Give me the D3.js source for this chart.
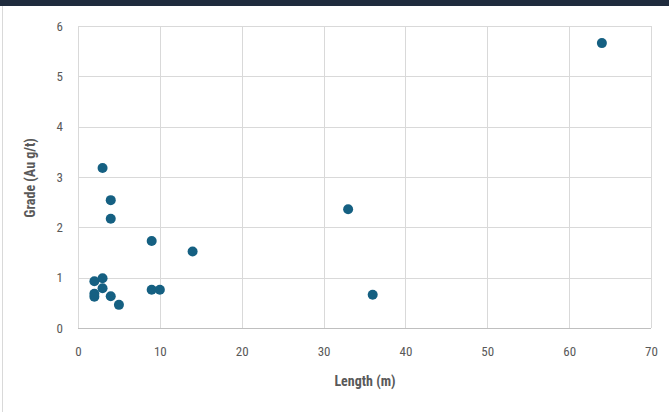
<!DOCTYPE html>
<html><head><meta charset="utf-8">
<script src="https://cdn.jsdelivr.net/npm/d3@7"></script>
<style>
html,body{margin:0;padding:0;background:#fff;}
svg{display:block;}
</style></head>
<body>
<svg id="chart" width="669" height="412"></svg>
<script>
const lengthM = [64, 33, 36, 14, 9, 9, 10, 3, 4, 4, 2, 3, 3, 2, 2, 4, 5];
const gradeAu = [5.66, 2.36, 0.66, 1.52, 1.73, 0.76, 0.76, 3.18, 2.54, 2.17, 0.93, 0.99, 0.79, 0.62, 0.68, 0.63, 0.46];
const xTicks = [0, 10, 20, 30, 40, 50, 60, 70];
const yTicks = [0, 1, 2, 3, 4, 5, 6];
const xTitle = "Length (m)";
const yTitle = "Grade (Au g/t)";

const svg = d3.select("#chart");
const font = "'Roboto Condensed','Liberation Sans Narrow','Liberation Sans',sans-serif";

// frame decorations
svg.append("rect").attr("x",0).attr("y",0).attr("width",669).attr("height",6).attr("fill","#1f2b3d");
svg.append("line").attr("x1",2.5).attr("x2",2.5).attr("y1",6).attr("y2",412).attr("stroke","#d9d9d9");

const x = d3.scaleLinear().domain([0,70]).range([78,651]);
const y = d3.scaleLinear().domain([0,6]).range([328,26]);

const g = svg.append("g");
g.selectAll(".hg").data(yTicks).enter().append("line")
  .attr("x1",x(0)).attr("x2",x(70))
  .attr("y1",d=>Math.round(y(d))+0.5).attr("y2",d=>Math.round(y(d))+0.5)
  .attr("stroke",d=>d===0?"#bfbfbf":"#d9d9d9").attr("stroke-width",1);
g.selectAll(".vg").data(xTicks).enter().append("line")
  .attr("x1",d=>Math.round(x(d))+0.5).attr("x2",d=>Math.round(x(d))+0.5)
  .attr("y1",y(6)).attr("y2",y(0))
  .attr("stroke","#d9d9d9").attr("stroke-width",1);

const xAxis = d3.axisBottom(x).tickValues(xTicks).tickSize(0).tickPadding(19).tickFormat(d3.format("d"));
const yAxis = d3.axisLeft(y).tickValues(yTicks).tickSize(0).tickPadding(15).tickFormat(d3.format("d"));
const gx = svg.append("g").attr("transform",`translate(0,${y(0)})`).call(xAxis);
const gy = svg.append("g").attr("transform",`translate(${x(0)},0)`).call(yAxis);
[gx,gy].forEach(a=>{
  a.select(".domain").remove();
  a.selectAll("text").attr("fill","#595959").style("font-family",font).style("font-size","13px");
});

svg.selectAll(".pt").data(lengthM.map((l,i)=>[l,gradeAu[i]])).enter().append("circle")
  .attr("cx",d=>x(d[0])).attr("cy",d=>y(d[1])).attr("r",5)
  .attr("fill","#156082");

svg.append("text").attr("x",365).attr("y",386).attr("text-anchor","middle")
  .attr("fill","#595959").style("font-family",font).style("font-size","14px").style("font-weight","bold")
  .text(xTitle);
svg.append("text").attr("transform","translate(35,178) rotate(-90)").attr("text-anchor","middle")
  .attr("fill","#595959").style("font-family",font).style("font-size","14px").style("font-weight","bold")
  .text(yTitle);
</script>
</body></html>
